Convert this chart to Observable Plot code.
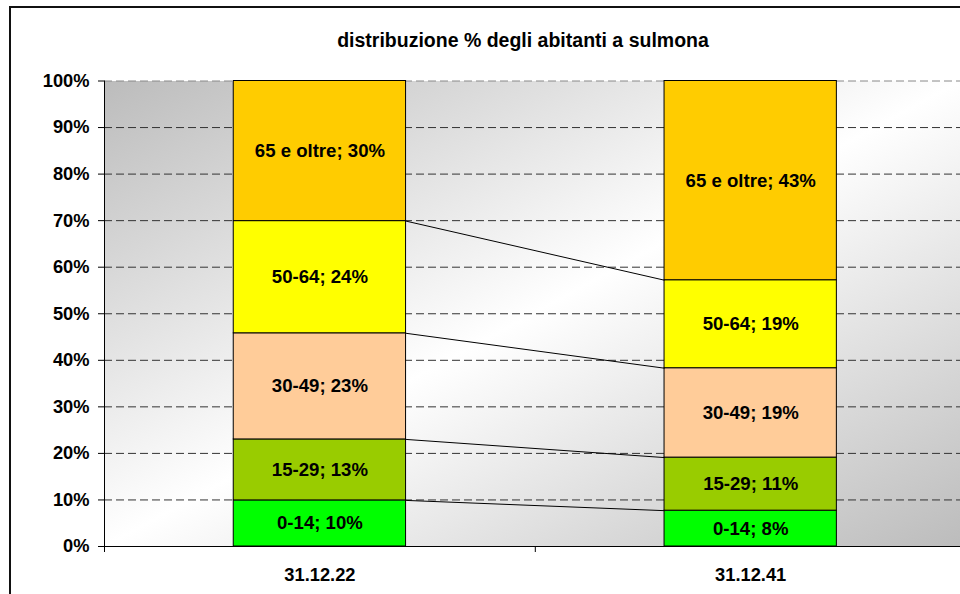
<!DOCTYPE html>
<html><head><meta charset="utf-8">
<script src="https://cdn.jsdelivr.net/npm/d3@7"></script>
<script src="https://cdn.jsdelivr.net/npm/@observablehq/plot@0.6"></script>
<style>
body{margin:0;background:#fff;}
#wrap{position:relative;width:960px;height:594px;overflow:hidden;font-family:"Liberation Sans",Arial,sans-serif;}
#border{position:absolute;left:9px;top:6px;width:1000px;height:700px;border:2px solid #111;box-sizing:border-box;}
#title{position:absolute;top:31px;left:523px;transform:translateX(-50%);font-size:19.5px;font-weight:bold;line-height:19.5px;white-space:nowrap;color:#000;}
#chart{position:absolute;left:0;top:0;}
</style></head>
<body><div id="wrap"><div id="border"></div><div id="chart"></div><div id="title">distribuzione % degli abitanti a sulmona</div></div>
<script>
const categories = ["31.12.22", "31.12.41"];
const ageGroups = ["0-14", "15-29", "30-49", "50-64", "65 e oltre"];
const share2022 = [9.9, 13.1, 22.8, 24.1, 30.1];
const share2041 = [7.7, 11.4, 19.2, 18.9, 42.8];
const groupColors = ["#00FF00", "#99CC00", "#FFCC99", "#FFFF00", "#FFCC00"];
const yTicks = [0, 10, 20, 30, 40, 50, 60, 70, 80, 90, 100];

const barHalf = 0.2;
const series = [share2022, share2041];
const segments = [];
series.forEach((vals, ci) => {
  let acc = 0;
  vals.forEach((v, gi) => {
    segments.push({cat: ci, group: ageGroups[gi], value: v, y1: acc, y2: acc + v});
    acc += v;
  });
});
const links = [];
for (let gi = 0; gi < ageGroups.length - 1; gi++) {
  links.push({a: 0, b: 1, y1: segments[gi].y2, y2: segments[ageGroups.length + gi].y2});
}

const defs = () => {
  const d = d3.create("svg:defs");
  const g = d.append("linearGradient").attr("id", "bg")
    .attr("x1", 0).attr("y1", 0).attr("x2", 1).attr("y2", 1);
  g.append("stop").attr("offset", "0").attr("stop-color", "#bcbcbc");
  g.append("stop").attr("offset", "0.5").attr("stop-color", "#ffffff");
  g.append("stop").attr("offset", "1").attr("stop-color", "#bcbcbc");
  return d.node();
};

const chart = Plot.plot({
  width: 960,
  height: 594,
  marginTop: 80.5,
  marginBottom: 48,
  marginLeft: 104,
  marginRight: 0,
  style: {fontFamily: "'Liberation Sans', Arial, sans-serif", fontSize: "18px", fontWeight: "bold", color: "#000", background: "transparent"},
  x: {type: "linear", domain: [-0.5, 1.487]},
  y: {domain: [0, 100]},
  color: {domain: ageGroups, range: groupColors},
  marks: [
    defs,
    Plot.frame({fill: "url(#bg)", stroke: "none"}),
    Plot.ruleY(yTicks.filter(t => t > 0 && t < 100), {stroke: "#333", strokeWidth: 1, strokeDasharray: "8,4"}),
    Plot.ruleY([100], {stroke: "#888", strokeWidth: 1, strokeDasharray: "8,4"}),
    Plot.rect(segments, {x1: d => d.cat - barHalf, x2: d => d.cat + barHalf, y1: "y1", y2: "y2", fill: "group", stroke: "#000", strokeWidth: 1, inset: 0}),
    Plot.link(links, {x1: d => d.a + barHalf, x2: d => d.b - barHalf, y1: "y1", y2: "y2", stroke: "#000", strokeWidth: 1}),
    Plot.text(segments, {x: "cat", y: d => (d.y1 + d.y2) / 2, text: d => `${d.group}; ${Math.round(d.value)}%`, fill: "#000", fontSize: 18.6, fontWeight: "bold"}),
    Plot.ruleX([-0.5], {stroke: "#000", strokeWidth: 1}),
    Plot.ruleY([0], {stroke: "#000", strokeWidth: 1}),
    Plot.axisY({ticks: yTicks, tickFormat: d => d + "%", tickSize: 6, tickPadding: 9, label: null, fontSize: 18.3, fontWeight: "bold"}),
    Plot.axisX({ticks: [0, 1], tickSize: 0, tickPadding: 21, tickFormat: i => categories[i], label: null, fontSize: 18.3, fontWeight: "bold"}),
    Plot.axisX({ticks: [-0.5, 0.5], tickSize: 6, tickFormat: () => "", label: null})
  ]
});
document.getElementById("chart").appendChild(chart);
</script>
</body></html>
